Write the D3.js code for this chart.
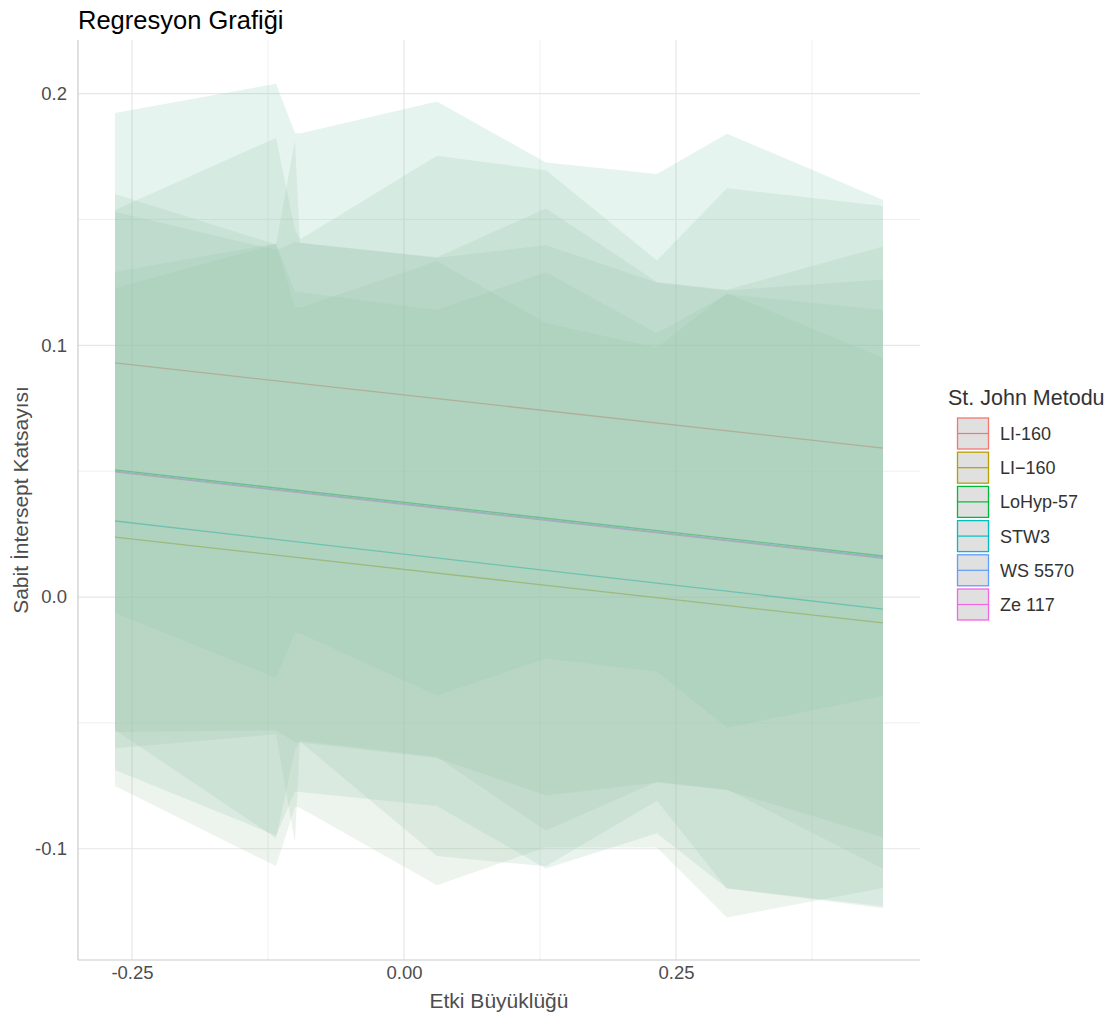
<!DOCTYPE html>
<html>
<head>
<meta charset="utf-8">
<script src="https://cdn.jsdelivr.net/npm/d3@7"></script>
<style>
  body { margin: 0; background: #fff; }
  .canvas svg { font-family: "Liberation Sans", Arial, sans-serif; }
</style>
</head>
<body>
<div class="canvas"></div>
<script>
// effect sizes where the ribbons have a vertex
const effects = [-0.2656, -0.1176, -0.1002, -0.0956, 0.0303, 0.1305, 0.2325, 0.2969, 0.4403];
const groups = ['LI-160', 'LI\u2212160', 'LoHyp-57', 'STW3', 'WS 5570', 'Ze 117'];
const colors = ['#F8766D', '#B79F00', '#00BA38', '#00BFC4', '#619CFF', '#F564E3'];
const ribbonFills = ['#7cc6ad', '#a3c2a6', '#95c4ac', '#8fc6b0', '#9dc3a9', '#97c4ac'];

// fitted line: value at first and last effect
const fitStart = [0.0930, 0.0238, 0.0505, 0.0302, 0.0500, 0.0497];
const fitEnd = [0.0592, -0.0103, 0.0163, -0.0048, 0.0157, 0.0154];

// ribbon bounds per group
const upperLI160a = [0.1923, 0.2039, 0.1844, 0.1842, 0.1969, 0.1726, 0.1681, 0.1841, 0.1577];
const lowerLI160a = [-0.0063, -0.0321, -0.0142, -0.0144, -0.0391, -0.0244, -0.0297, -0.0519, -0.0393];
const upperLI160b = [0.1227, 0.1403, 0.1152, 0.1149, 0.1335, 0.1088, 0.0991, 0.1207, 0.0950];
const lowerLI160b = [-0.0751, -0.1069, -0.0834, -0.0837, -0.1145, -0.0994, -0.0995, -0.1273, -0.1156];
const upperLoHyp = [0.1538, 0.1824, 0.1458, 0.1420, 0.1753, 0.1696, 0.1337, 0.1624, 0.1554];
const lowerLoHyp = [-0.0528, -0.0958, -0.0608, -0.0574, -0.1029, -0.1070, -0.0809, -0.1158, -0.1228];
const upperSTW3 = [0.1291, 0.1405, 0.1213, 0.1211, 0.1140, 0.1290, 0.1048, 0.1203, 0.1140];
const lowerSTW3 = [-0.0687, -0.0947, -0.0773, -0.0775, -0.0830, -0.1078, -0.0938, -0.1157, -0.1236];
const upperWS = [0.1601, 0.1401, 0.1815, 0.1407, 0.1350, 0.1544, 0.1252, 0.1221, 0.1393];
const lowerWS = [-0.0601, -0.0545, -0.0975, -0.0571, -0.0636, -0.0928, -0.0734, -0.0765, -0.1079];
const upperZe = [0.1530, 0.1379, 0.1410, 0.1408, 0.1347, 0.1398, 0.1249, 0.1218, 0.1262];
const lowerZe = [-0.0536, -0.0529, -0.0576, -0.0578, -0.0639, -0.0788, -0.0737, -0.0768, -0.0954];

const uppers = [upperLI160a, upperLI160b, upperLoHyp, upperSTW3, upperWS, upperZe];
const lowers = [lowerLI160a, lowerLI160b, lowerLoHyp, lowerSTW3, lowerWS, lowerZe];

const xTicks = [-0.25, 0, 0.25];
const xMinor = [-0.125, 0.125, 0.375];
const yTicks = [-0.1, 0, 0.1, 0.2];
const yMinor = [-0.05, 0.05, 0.15];

let width = 1120, height = 1023;
let padL = 78, padR = 920, padT = 40, padB = 960;

const svg = d3.select('.canvas')
    .append('svg')
    .attr('width', width)
    .attr('height', height);

const xScale = d3.scaleLinear()
    .domain([-0.2996, 0.4743])
    .range([padL, padR]);

const yScale = d3.scaleLinear()
    .domain([-0.1442, 0.2213])
    .range([padB, padT]);

// hyphen instead of the unicode minus d3 puts in
let fmt = (spec) => (d) => d3.format(spec)(d).replace('\u2212', '-');

// grid
const grid = svg.append('g');
grid.selectAll('.ymin').data(yMinor).enter().append('line')
    .attr('x1', padL).attr('x2', padR)
    .attr('y1', d => yScale(d)).attr('y2', d => yScale(d))
    .attr('stroke', '#ebebeb').attr('stroke-width', 0.8);
grid.selectAll('.xmin').data(xMinor).enter().append('line')
    .attr('y1', padT).attr('y2', padB)
    .attr('x1', d => xScale(d)).attr('x2', d => xScale(d))
    .attr('stroke', '#ebebeb').attr('stroke-width', 0.8);
grid.selectAll('.ymaj').data(yTicks).enter().append('line')
    .attr('x1', padL).attr('x2', padR)
    .attr('y1', d => yScale(d)).attr('y2', d => yScale(d))
    .attr('stroke', '#e6e6e6').attr('stroke-width', 1.2);
grid.selectAll('.xmaj').data(xTicks).enter().append('line')
    .attr('y1', padT).attr('y2', padB)
    .attr('x1', d => xScale(d)).attr('x2', d => xScale(d))
    .attr('stroke', '#e6e6e6').attr('stroke-width', 1.2);

// fitted lines (under the ribbons)
const x0 = effects[0], x1 = effects[effects.length - 1];
const line = d3.line().x(d => xScale(d[0])).y(d => yScale(d[1]));
groups.forEach((g, i) => {
    svg.append('path')
        .attr('d', line([[x0, fitStart[i]], [x1, fitEnd[i]]]))
        .attr('fill', 'none')
        .attr('stroke', colors[i])
        .attr('stroke-width', 1.3);
});

// ribbons
const area = d3.area()
    .x(d => xScale(d.x))
    .y0(d => yScale(d.lo))
    .y1(d => yScale(d.hi));
groups.forEach((g, i) => {
    const rows = effects.map((x, j) => ({ x: x, lo: lowers[i][j], hi: uppers[i][j] }));
    svg.append('path')
        .attr('d', area(rows))
        .attr('fill', ribbonFills[i])
        .attr('fill-opacity', 0.2);
});

// axis lines
svg.append('line').attr('x1', padL).attr('x2', padL).attr('y1', padT).attr('y2', padB)
    .attr('stroke', '#cccccc').attr('stroke-width', 1.2);
svg.append('line').attr('x1', padL).attr('x2', padR).attr('y1', padB).attr('y2', padB)
    .attr('stroke', '#cccccc').attr('stroke-width', 1.2);

const xAxis = d3.axisBottom(xScale).tickValues(xTicks).tickSize(0).tickPadding(6)
    .tickFormat(fmt('.2f'));
const yAxis = d3.axisLeft(yScale).tickValues(yTicks).tickSize(0).tickPadding(9)
    .tickFormat(fmt('.1f'));

svg.append('g')
    .attr('transform', `translate(0, ${padB})`)
    .call(xAxis)
    .call(g => g.select('.domain').remove())
    .call(g => g.selectAll('text').attr('fill', '#4d4d4d').style('font-size', '18.5px')
        .style('font-family', '"Liberation Sans", Arial, sans-serif'));

svg.append('g')
    .attr('transform', `translate(${padL - 2},0)`)
    .call(yAxis)
    .call(g => g.select('.domain').remove())
    .call(g => g.selectAll('text').attr('fill', '#4d4d4d').style('font-size', '18.5px')
        .style('font-family', '"Liberation Sans", Arial, sans-serif'));

// titles
svg.append('text')
    .attr('x', 78).attr('y', 29)
    .attr('fill', '#000')
    .style('font-size', '25.5px')
    .text('Regresyon Grafiği');

svg.append('text')
    .attr('x', (padL + padR) / 2).attr('y', 1008)
    .attr('text-anchor', 'middle')
    .attr('fill', '#4d4d4d')
    .style('font-size', '21px')
    .text('Etki Büyüklüğü');

svg.append('text')
    .attr('transform', `translate(28, ${(padT + padB) / 2}) rotate(-90)`)
    .attr('text-anchor', 'middle')
    .attr('fill', '#4d4d4d')
    .style('font-size', '21px')
    .text('Sabit İntersept Katsayısı');

// legend
const legend = svg.append('g').attr('transform', 'translate(948, 0)');
legend.append('text')
    .attr('x', 0).attr('y', 405)
    .attr('fill', '#333')
    .style('font-size', '21.5px')
    .text('St. John Metodu');

groups.forEach((g, i) => {
    const ky = 418 + i * 34.2;
    legend.append('rect')
        .attr('x', 9.5).attr('y', ky)
        .attr('width', 31).attr('height', 31)
        .attr('fill', '#e0e0e0')
        .attr('stroke', colors[i])
        .attr('stroke-width', 1.3);
    legend.append('line')
        .attr('x1', 10).attr('x2', 40)
        .attr('y1', ky + 15.5).attr('y2', ky + 15.5)
        .attr('stroke', colors[i])
        .attr('stroke-width', 1.2);
    legend.append('text')
        .attr('x', 52).attr('y', ky + 22)
        .attr('fill', '#333')
        .style('font-size', '18px')
        .text(g);
});
</script>
</body>
</html>
